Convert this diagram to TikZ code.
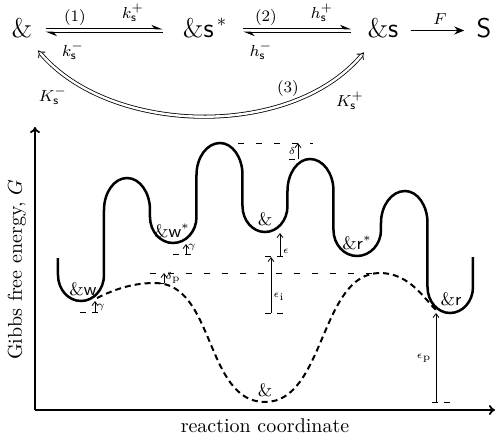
\documentclass[tikz,border=0pt]{standalone}
\usetikzlibrary{arrows.meta,calc}
\begin{document}
\begin{tikzpicture}[x=0.5pt,y=-0.5pt,
  big/.style={font=\fontsize{13.5}{16}\selectfont, inner sep=0pt, anchor=base, text height=7pt, text depth=0.5pt},
  lab/.style={font=\footnotesize, inner sep=0pt},
  well/.style={font=\small, inner sep=0pt},
  tinylab/.style={font=\tiny, inner sep=0pt},
  rxn/.style={line width=0.45pt, -{Stealth[harpoon,length=5pt,width=4pt]}},
  dbl/.style={line width=0.4pt, double, double distance=1.2pt, Implies-Implies},
  pes/.style={line width=1.25pt},
  dpes/.style={line width=1pt, dash pattern=on 3pt off 2pt},
  hd/.style={line width=0.4pt, dash pattern=on 3pt off 6pt},
  tick/.style={line width=0.4pt, dash pattern=on 3pt off 3pt},
  ann/.style={line width=0.4pt, -{Straight Barb[length=2pt,width=3pt]}},
  axis/.style={line width=0.9pt, -{To[length=3pt,width=5pt]}}
]
\useasboundingbox (0,0) rectangle (500,436);

% reaction scheme
\node[big] (a) at (22,37) {\&};
\node[big] (b) at (205,37) {\&\textsf{s}$^{\,*}$};
\node[big] (c) at (383,37) {\&\textsf{s}};
\node[big] (d) at (484,37) {\textsf{S}};

\draw[rxn, shorten <=6.5pt, shorten >=10pt] ([yshift=0.8pt]a.east) -- ([yshift=0.8pt]b.west);
\draw[rxn, shorten <=10pt, shorten >=6.5pt] ([yshift=-0.8pt]b.west) -- ([yshift=-0.8pt]a.east);
\draw[rxn, shorten <=8pt, shorten >=8pt] ([yshift=0.8pt]b.east) -- ([yshift=0.8pt]c.west);
\draw[rxn, shorten <=8pt, shorten >=8pt] ([yshift=-0.8pt]c.west) -- ([yshift=-0.8pt]b.east);
\draw[line width=0.45pt, -{Stealth[length=5pt,width=4pt]}, shorten <=6pt, shorten >=6pt] (c.east) -- (d.west);

\node[lab] (l1) at (75,17) {$(1)$};
\node[lab] (l1p) at (133,12.5) {$k_{\mathsf{s}}^{+}$};
\node[lab] (l1m) at (73,51) {$k_{\mathsf{s}}^{-}$};
\node[lab] (l2) at (266,17) {$(2)$};
\node[lab] (l2p) at (322,12.5) {$h_{\mathsf{s}}^{+}$};
\node[lab] (l2m) at (261,51) {$h_{\mathsf{s}}^{-}$};
\node[lab] (lF) at (440,19) {$F$};

\draw[dbl] ($(a.south)+(16,12)$) .. controls (110,135) and (290,140) .. ($(c.south)+(-19,14)$);
\node[lab] (l3) at (288,88) {$(3)$};
\node[lab] (l3m) at (53,96) {$K_{\mathsf{s}}^{-}$};
\node[lab] (l3p) at (350,101) {$K_{\mathsf{s}}^{+}$};

% axes
\coordinate (o) at (35,410);
\coordinate (ytop) at (35,127);
\coordinate (xend) at (495,410);
\draw[axis] (o) -- (ytop);
\draw[axis] (o) -- (xend);
\node[rotate=90, inner sep=0pt] (ylab) at (17,270) {Gibbs free energy, $G$};
\node[inner sep=0pt] (xlab) at (265,426) {reaction coordinate};

% guide lines
\draw[hd] (238,143) -- (313,143);
\draw[hd] (150,273) -- (385,273);

% solid energy profile
\draw[pes] (58,258) -- (58,275) .. controls (58,289.4) and (68.3,301) .. (81,301)
  .. controls (93.7,301) and (104,289.4) .. (104,275) -- (104,210)
  .. controls (104,192.3) and (114.3,178) .. (127,178)
  .. controls (139.7,178) and (150,192.3) .. (150,210) -- (150,217)
  .. controls (150,231.4) and (160.3,243) .. (173,243)
  .. controls (186,243) and (196.5,231.4) .. (196.5,217) -- (196.5,175)
  .. controls (196.5,157.3) and (207,143) .. (220,143)
  .. controls (232.4,143) and (242.5,157.3) .. (242.5,175) -- (242.5,206)
  .. controls (242.5,220.4) and (252.6,232) .. (265,232)
  .. controls (277.4,232) and (287.5,220.4) .. (287.5,206) -- (287.5,191)
  .. controls (287.5,173.3) and (297.6,159) .. (310,159)
  .. controls (323,159) and (333.5,173.3) .. (333.5,191) -- (333.5,230)
  .. controls (333.5,244.4) and (344,256) .. (357,256)
  .. controls (370.2,256) and (381,244.4) .. (381,230) -- (381,223)
  .. controls (381,205.3) and (391.8,191) .. (405,191)
  .. controls (417.4,191) and (427.5,205.3) .. (427.5,223) -- (427.5,287)
  .. controls (427.5,301.4) and (437.6,313) .. (450,313)
  .. controls (462.7,313) and (473,301.4) .. (473,287) -- (473,257);

% dashed profile
\draw[dpes] (97,298) .. controls (117,288) and (135,283) .. (155,283)
  .. controls (215,283) and (205,402) .. (265,402)
  .. controls (325,402) and (320,273) .. (380,273)
  .. controls (410,273) and (425,300) .. (437,311);

% state labels
\node[well] (sw) at (83,289) {\&\textsf{w}};
\node[well] (sws) at (172,231) {\&\textsf{w}$^*$};
\node[well] (si) at (265,219) {\&};
\node[well] (srs) at (357,243) {\&\textsf{r}$^*$};
\node[well] (sr) at (451,299) {\&\textsf{r}};
\node[well] (sb) at (265,390) {\&};

% annotations
\draw[tick] (80,312) -- (99,312);
\draw[ann] (95,312) -- (95,301);
\node[tinylab] at (101,307) {$\gamma$};

\draw[tick] (173,254) -- (191,254);
\draw[ann] (186,254) -- (186,244);
\node[tinylab] at (192,247) {$\gamma$};

\draw[tick] (289,159) -- (301,159);
\draw[ann] (298,159) -- (298,143);
\node[tinylab] at (292,151) {$\delta$};

\draw[tick] (158,283) -- (170,283);
\draw[ann] (164,283) -- (164,273);
\node[tinylab] at (173,278) {$\delta_{\mathrm{p}}$};

\draw[tick] (265,256) -- (285,256);
\draw[ann] (280,256) -- (280,233);
\node[tinylab] at (286,251) {$\epsilon$};

\draw[tick] (265,313) -- (284,313);
\draw[ann] (271,313) -- (271,257);
\node[tinylab] at (279,297) {$\epsilon_{\mathrm{i}}$};

\draw[tick] (432,402) -- (452,402);
\draw[ann] (436,402) -- (436,313);
\node[tinylab] at (424,358) {$\epsilon_{\mathrm{p}}$};
\end{tikzpicture}
\end{document}
